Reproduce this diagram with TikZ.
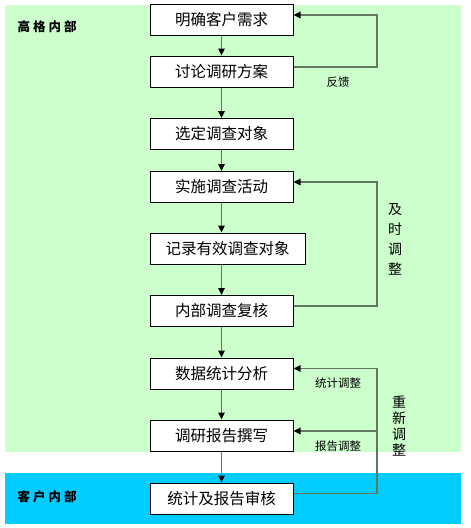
\documentclass[tikz,border=0pt]{standalone}
\usepackage{fontspec}
\setmainfont{Noto Sans CJK SC}
\usetikzlibrary{arrows.meta}
\definecolor{bggreen}{HTML}{CCFFCC}
\definecolor{bgblue}{HTML}{00CCFF}
\definecolor{linegray}{RGB}{96,120,96}
\begin{document}
\begin{tikzpicture}[x=1pt,y=-1pt,
  stepbox/.style={draw=black, fill=white, line width=1pt, minimum width=143pt, minimum height=31pt, inner sep=2pt, font=\fontsize{15.5pt}{18pt}\selectfont},
  flow/.style={draw=linegray, line width=1.5pt, -{Triangle[length=7pt,width=6.5pt,color=black]}},
  small/.style={font=\fontsize{11.5pt}{13pt}\selectfont, inner sep=0pt},
  vlab/.style={font=\fontsize{14pt}{#1}\selectfont, align=center, inner sep=0pt},
  side/.style={font=\bfseries\fontsize{12.5pt}{14pt}\selectfont, inner sep=0pt}]
\useasboundingbox (0,0) rectangle (471,528);
\fill[white] (0,0) rectangle (471,528);
\fill[bggreen] (5,5) rectangle (461,452);
\fill[bgblue] (5,473) rectangle (461,524);

\node[side] (gg) at (47,27) {高\hspace{3pt}格\hspace{3pt}内\hspace{3pt}部};
\node[side] (kh) at (47,497) {客\hspace{3pt}户\hspace{3pt}内\hspace{3pt}部};

\node[stepbox] (b1) at (221.5,19.5) {明确客户需求};
\node[stepbox] (b2) at (221.5,71.5) {讨论调研方案};
\node[stepbox] (b3) at (221.5,134) {选定调查对象};
\node[stepbox] (b4) at (221.5,187) {实施调查活动};
\node[stepbox, minimum width=155pt] (b5) at (227.5,248.5) {记录有效调查对象};
\node[stepbox] (b6) at (221.5,311) {内部调查复核};
\node[stepbox] (b7) at (221.5,373.5) {数据统计分析};
\node[stepbox] (b8) at (221.5,435.5) {调研报告撰写};
\node[stepbox] (b9) at (221.5,498.5) {统计及报告审核};

\draw[flow] (b1) -- (b2);
\draw[flow] (b2) -- (b3);
\draw[flow] (b3) -- (b4);
\draw[flow] (b4.south) -- (b5.north -| b4.south);
\draw[flow] (b5.south -| b6.north) -- (b6.north);
\draw[flow] (b6) -- (b7);
\draw[flow] (b7) -- (b8);
\draw[flow] (b8) -- (b9);

\coordinate (c1) at (377,0);
\draw[flow] ([yshift=4.5pt]b2.east) -- ([yshift=4.5pt]b2.east -| c1) |- ([yshift=4.5pt]b1.east);
\draw[flow] ([yshift=5pt]b6.east) -- ([yshift=5pt]b6.east -| c1) |- ([yshift=5pt]b4.east);
\draw[flow] ([yshift=5pt]b9.east) -- ([yshift=5pt]b9.east -| c1) |- ([yshift=5pt]b7.east);
\draw[flow] ([yshift=4.5pt]b8.east -| c1) -- ([yshift=4.5pt]b8.east);

\node[small] (fk) at (338,82) {反馈};
\node[small] (tj) at (338,383) {统计调整};
\node[small] (bg) at (338,446) {报告调整};
\node[vlab=20pt] (js) at (395,239.5) {及\\时\\调\\整};
\node[vlab=16pt] (cx) at (399,426) {重\\新\\调\\整};
\end{tikzpicture}
\end{document}
